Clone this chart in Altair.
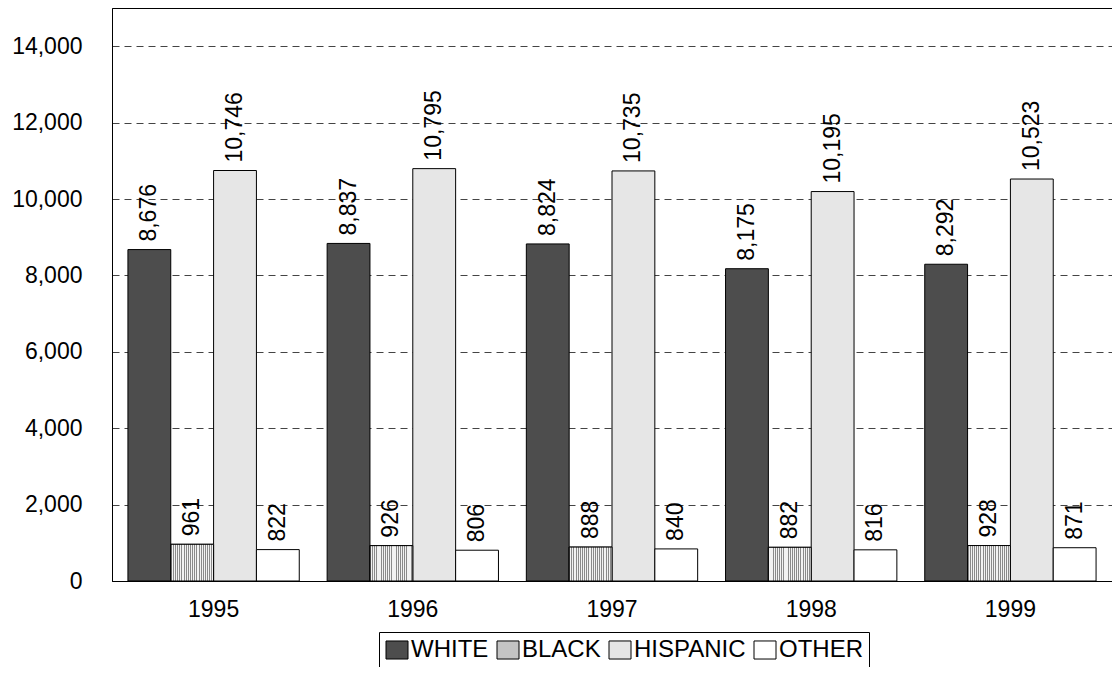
import altair as alt
import pandas as pd

years = ["1995", "1996", "1997", "1998", "1999"]
races = ["WHITE", "BLACK", "HISPANIC", "OTHER"]
white = [8676, 8837, 8824, 8175, 8292]
black = [961, 926, 888, 882, 928]
hispanic = [10746, 10795, 10735, 10195, 10523]
other = [822, 806, 840, 816, 871]
y_ticks = [0, 2000, 4000, 6000, 8000, 10000, 12000, 14000]

series = {"WHITE": white, "BLACK": black, "HISPANIC": hispanic, "OTHER": other}
rows = []
for r in races:
    for y, v in zip(years, series[r]):
        rows.append({"year": y, "race": r, "value": v})
df = pd.DataFrame(rows)

FONT = "Liberation Sans"

# vertical stripe gradient for BLACK bars
stops = []
n = 20
for i in range(n):
    a = i / n
    b = (i + 0.45) / n
    c = (i + 1) / n
    stops += [
        alt.GradientStop(color="#8a8a8a", offset=a),
        alt.GradientStop(color="#8a8a8a", offset=b),
        alt.GradientStop(color="#f2f2f2", offset=b),
        alt.GradientStop(color="#f2f2f2", offset=c),
    ]
stripe = alt.Gradient(gradient="linear", stops=stops, x1=0, x2=1, y1=0, y2=0)

x_enc = alt.X("year:N", title=None,
              scale=alt.Scale(paddingInner=0.14, paddingOuter=0.08),
              axis=alt.Axis(labelAngle=0, ticks=False, labelPadding=17,
                            labelFontSize=23, labelFont=FONT, labelColor="black",
                            domainColor="black", grid=False))
xo_enc = alt.XOffset("race:N", sort=races, scale=alt.Scale(paddingInner=0, paddingOuter=0))
y_enc = alt.Y("value:Q", title=None,
              scale=alt.Scale(domain=[0, 15000], nice=False),
              axis=alt.Axis(values=y_ticks, format=",d", ticks=False, labelPadding=30,
                            labelFontSize=23, labelFont=FONT, labelColor="black",
                            domainColor="black", grid=True, gridColor="#444444",
                            gridDash=[7, 5], gridWidth=1))

bars = alt.Chart(df).mark_bar(stroke="black", strokeWidth=1).encode(
    x=x_enc, xOffset=xo_enc, y=y_enc,
    color=alt.Color("race:N", sort=races,
                    scale=alt.Scale(domain=races,
                                    range=["#4d4d4d", "#c4c4c4", "#e6e6e6", "#ffffff"]),
                    legend=alt.Legend(title=None, orient="none", legendX=267, legendY=624,
                                      direction="horizontal", columns=4,
                                      labelFontSize=24, labelFont=FONT, labelColor="black",
                                      labelOffset=2, columnPadding=6, padding=6,
                                      strokeColor="black", labelLimit=300,
                                      symbolType="M-1,-0.82H1V0.82H-1Z", symbolSize=484,
                                      symbolStrokeColor="black", symbolStrokeWidth=1,
                                      symbolOpacity=1)),
)

black_bars = alt.Chart(df).transform_filter(alt.datum.race == "BLACK").mark_bar(
    fill=stripe, stroke="black", strokeWidth=1
).encode(x=alt.X("year:N"), xOffset=xo_enc, y=alt.Y("value:Q"))

labels = alt.Chart(df).mark_text(angle=270, align="left", baseline="middle", dx=8,
                                 fontSize=23, font=FONT, color="black").encode(
    x=alt.X("year:N"), xOffset=xo_enc, y=alt.Y("value:Q"),
    text=alt.Text("value:Q", format=",d"),
)

chart = alt.layer(bars, black_bars, labels).resolve_scale(x="shared").properties(
    width=1000, height=573,
    padding={"left": 104, "top": 0, "right": 0, "bottom": 86},
    autosize=alt.AutoSizeParams(type="none"),
    background="white",
).configure_view(stroke="black", strokeWidth=1)

chart.save("out.html", embed_options={"renderer": "svg", "actions": False})
